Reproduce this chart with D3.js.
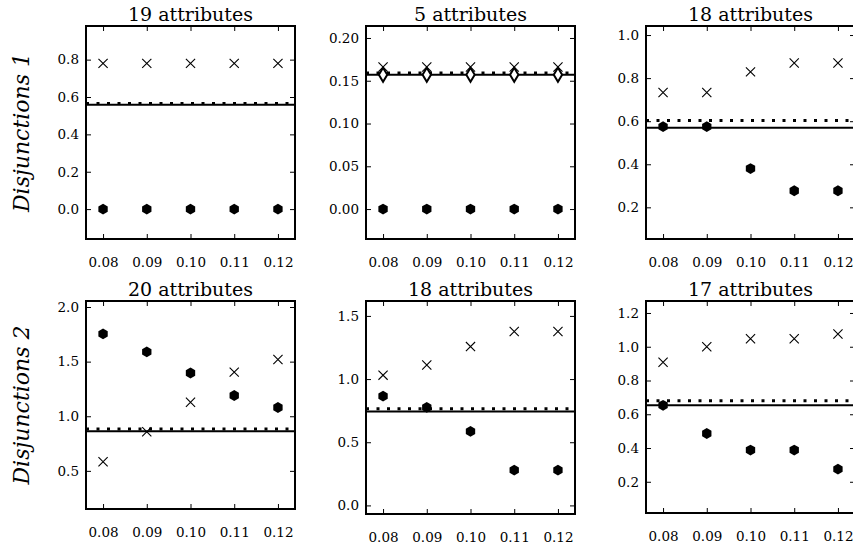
<!DOCTYPE html>
<meta charset="utf-8">
<style>
    body { margin: 0; background: #fff; }
    text {
        font-family: "DejaVu Serif", serif;
        fill: black;
    }
    .tick text { font-size: 13.5px; }
    .title { font-size: 19px; }
    .ylab { font-size: 22px; font-style: italic; }
    .frame { fill: none; stroke: black; stroke-width: 2px; }
    .solid { stroke: black; stroke-width: 2px; }
    .dotted { stroke: black; stroke-width: 3px; stroke-dasharray: 3, 7.5; }
    .cross { stroke: black; stroke-width: 1.1px; fill: none; }
    .hex { fill: black; }
    .diamond { fill: white; stroke: black; stroke-width: 2px; }
    .axis path { display: none; }
    .axis line { stroke: black; stroke-width: 1px; }
</style>

<body>
    <svg width="853" height="547"></svg>
</body>

<script src="https://d3js.org/d3.v7.min.js"></script>
<script>

    // data
    var thresholds = [0.08, 0.09, 0.10, 0.11, 0.12];
    var rowLabels = ["Disjunctions 1", "Disjunctions 2"];
    var titles = ["19 attributes", "5 attributes", "18 attributes",
                  "20 attributes", "18 attributes", "17 attributes"];

    var crosses = [
        [0.78, 0.78, 0.78, 0.78, 0.78],
        [0.166, 0.166, 0.166, 0.166, 0.166],
        [0.733, 0.733, 0.829, 0.870, 0.870],
        [0.583, 0.858, 1.128, 1.404, 1.52],
        [1.031, 1.112, 1.257, 1.376, 1.376],
        [0.908, 1.0, 1.047, 1.047, 1.076]
    ];
    var dots = [
        [0, 0, 0, 0, 0],
        [0, 0, 0, 0, 0],
        [0.575, 0.575, 0.38, 0.277, 0.277],
        [1.754, 1.589, 1.396, 1.19, 1.08],
        [0.865, 0.776, 0.586, 0.279, 0.279],
        [0.653, 0.486, 0.388, 0.388, 0.275]
    ];
    var diamonds = [
        null,
        [0.157, 0.157, 0.157, 0.157, 0.157],
        null, null, null, null
    ];
    var solidLevel = [0.558, 0.157, 0.570, 0.862, 0.744, 0.653];
    var dottedLevel = [0.565, 0.159, 0.603, 0.884, 0.765, 0.680];

    var yLimits = [[-0.16, 0.98], [-0.035, 0.214], [0.053, 1.042],
                   [0.151, 2.055], [-0.068, 1.618], [0.015, 1.271]];
    var yTicks = [
        [0.0, 0.2, 0.4, 0.6, 0.8],
        [0.00, 0.05, 0.10, 0.15, 0.20],
        [0.2, 0.4, 0.6, 0.8, 1.0],
        [0.5, 1.0, 1.5, 2.0],
        [0.0, 0.5, 1.0, 1.5],
        [0.2, 0.4, 0.6, 0.8, 1.0, 1.2]
    ];
    var yFormats = [".1f", ".2f", ".1f", ".1f", ".1f", ".1f"];
    var xLimits = [0.0761, 0.1239];

    // panel boxes (layout)
    var colX = [86, 366, 646];
    var panelW = 209;
    var boxes = [
        {top: 26, bottom: 239}, {top: 26, bottom: 239}, {top: 26, bottom: 239},
        {top: 301, bottom: 509}, {top: 301, bottom: 514}, {top: 301, bottom: 513}
    ];

    var svg = d3.select("svg");

    function hexPath(r) {
        var pts = d3.range(6).map(function (i) {
            var a = Math.PI / 2 + i * Math.PI / 3;
            return [r * Math.cos(a), r * Math.sin(a)];
        });
        return "M" + pts.join("L") + "Z";
    }

    titles.forEach(function (title, i) {
        var col = i % 3;
        var box = boxes[i];
        var left = colX[col], w = panelW, h = box.bottom - box.top;

        var g = svg.append("g")
                .attr("transform", "translate(" + left + "," + box.top + ")");

        var x = d3.scaleLinear().domain(xLimits).range([0, w]);
        var y = d3.scaleLinear().domain(yLimits[i]).range([h, 0]);
        var fmt = d3.format(yFormats[i]);

        // axes with inward ticks on all four sides
        g.append("g").attr("class", "axis")
                .attr("transform", "translate(0," + h + ")")
                .call(d3.axisBottom(x).tickValues(thresholds).tickSize(-5)
                        .tickPadding(18).tickFormat(d3.format(".2f")));
        g.append("g").attr("class", "axis")
                .call(d3.axisTop(x).tickValues(thresholds).tickSize(-5).tickFormat(""));
        g.append("g").attr("class", "axis")
                .call(d3.axisLeft(y).tickValues(yTicks[i]).tickSize(-5)
                        .tickPadding(7).tickFormat(fmt));
        g.append("g").attr("class", "axis")
                .attr("transform", "translate(" + w + ",0)")
                .call(d3.axisRight(y).tickValues(yTicks[i]).tickSize(-5).tickFormat(""));

        // reference lines
        g.append("line").attr("class", "solid")
                .attr("x1", 0).attr("x2", w)
                .attr("y1", y(solidLevel[i])).attr("y2", y(solidLevel[i]));
        g.append("line").attr("class", "dotted")
                .attr("x1", 0).attr("x2", w)
                .attr("y1", y(dottedLevel[i])).attr("y2", y(dottedLevel[i]));

        // hexagon markers
        g.selectAll(".hex")
                .data(dots[i])
                .enter().append("path")
                .attr("class", "hex")
                .attr("d", hexPath(5.4))
                .attr("transform", function (d, j) {
                    return "translate(" + x(thresholds[j]) + "," + y(d) + ")";
                });

        // diamond markers
        if (diamonds[i]) {
            g.selectAll(".diamond")
                    .data(diamonds[i])
                    .enter().append("path")
                    .attr("class", "diamond")
                    .attr("d", "M0,-7L4.2,0L0,7L-4.2,0Z")
                    .attr("transform", function (d, j) {
                        return "translate(" + x(thresholds[j]) + "," + y(d) + ")";
                    });
        }

        // cross markers
        g.selectAll(".cross")
                .data(crosses[i])
                .enter().append("path")
                .attr("class", "cross")
                .attr("d", "M-4.6,-4.6L4.6,4.6M-4.6,4.6L4.6,-4.6")
                .attr("transform", function (d, j) {
                    return "translate(" + x(thresholds[j]) + "," + y(d) + ")";
                });

        g.append("rect").attr("class", "frame")
                .attr("width", w).attr("height", h);

        g.append("text").attr("class", "title")
                .attr("x", w / 2).attr("y", -5)
                .style("text-anchor", "middle")
                .text(title);

        if (col === 0) {
            var r = Math.floor(i / 3);
            g.append("text").attr("class", "ylab")
                    .attr("transform", "translate(-57," + (h / 2) + ") rotate(-90)")
                    .style("text-anchor", "middle")
                    .text(rowLabels[r]);
        }
    });

</script>
